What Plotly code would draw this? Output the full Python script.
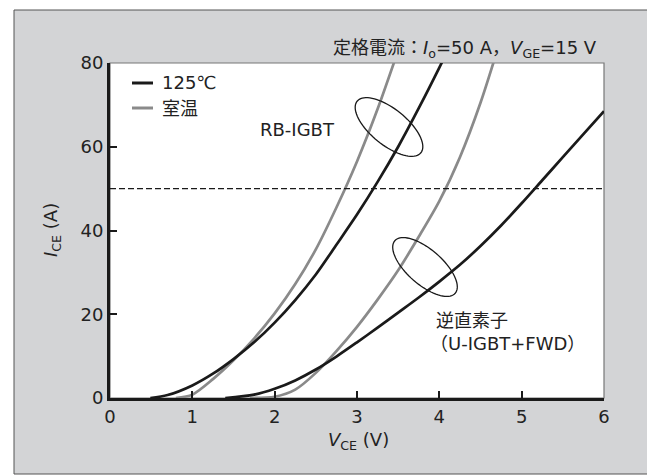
import math
import plotly.graph_objects as go

# ---- data ----
rb_hot_v = [0.49, 0.7, 1.0, 1.25, 1.5, 1.75, 2.0, 2.25, 2.5, 2.75, 3.0, 3.25, 3.5, 3.75, 4.0, 4.2]
rb_hot_i = [0.0, 0.7, 3.0, 5.8, 9.3, 13.3, 18.0, 23.4, 29.5, 36.6, 43.8, 51.6, 60.0, 69.2, 78.9, 87.0]

rb_rt_v = [0.8, 1.0, 1.25, 1.5, 1.75, 2.0, 2.25, 2.5, 2.75, 3.0, 3.25, 3.5]
rb_rt_i = [0.0, 0.8, 4.5, 9.0, 14.2, 20.2, 27.2, 35.5, 45.5, 56.5, 69.0, 83.0]

u_hot_v = [1.4, 1.75, 2.0, 2.25, 2.5, 2.75, 3.0, 3.25, 3.5, 3.75, 4.0, 4.25, 4.5, 4.75, 5.0, 5.25, 5.5, 5.75, 6.0]
u_hot_i = [0.0, 0.8, 2.2, 4.2, 6.8, 9.9, 13.3, 16.8, 20.4, 24.0, 27.8, 31.8, 36.3, 41.2, 46.5, 52.0, 57.5, 63.0, 68.5]

u_rt_v = [1.7, 2.0, 2.25, 2.5, 2.75, 3.0, 3.25, 3.5, 3.75, 4.0, 4.25, 4.5, 4.75]
u_rt_i = [0.0, 0.3, 2.0, 6.0, 11.2, 17.0, 23.5, 30.5, 38.5, 47.0, 57.5, 70.5, 86.0]

rated_current = 50
x_ticks = [0, 1, 2, 3, 4, 5, 6]
y_ticks = [0, 20, 40, 60, 80]

BLACK = "#1a1a1a"
GRAY = "#8a8a8a"
BG = "#d3d4d6"
FONT = "DejaVu Sans, Noto Sans CJK JP, sans-serif"
TXT = "#222222"

# page offset (body margin) and figure geometry, in screenshot pixels
OX, OY = 8, 8
W, H = 655, 475
PL, PR, PT, PB = 110, 604, 63, 398          # plot area edges on screen
L, T = PL - OX, PT - OY
R, B = W - (PR - OX), H - (PB - OY)
pw, ph = PR - PL, PB - PT
XR, YR = (0, 6), (0, 80)


def to_data(px, py):
    return (XR[0] + (px - PL) / pw * (XR[1] - XR[0]),
            YR[0] + (PB - py) / ph * (YR[1] - YR[0]))


def to_paper(px, py):
    return (px - PL) / pw, (PB - py) / ph


def ellipse_path(cx, cy, a, b, ang_deg, n=80):
    th = math.radians(ang_deg)
    pts = []
    for k in range(n + 1):
        t = 2 * math.pi * k / n
        px = cx + a * math.cos(t) * math.cos(th) - b * math.sin(t) * math.sin(th)
        py = cy + a * math.cos(t) * math.sin(th) + b * math.sin(t) * math.cos(th)
        pts.append(to_data(px, py))
    return "M" + " L".join(f"{x:.4f},{y:.4f}" for x, y in pts) + " Z"


fig = go.Figure()
for v, i, c in [(rb_rt_v, rb_rt_i, GRAY), (u_rt_v, u_rt_i, GRAY),
                (rb_hot_v, rb_hot_i, BLACK), (u_hot_v, u_hot_i, BLACK)]:
    fig.add_trace(go.Scatter(x=v, y=i, mode="lines",
                             line=dict(color=c, width=2.7, shape="spline", smoothing=0.8),
                             showlegend=False, hoverinfo="skip"))

fig.add_trace(go.Scatter(x=[XR[0], XR[1]], y=[rated_current, rated_current], mode="lines",
                         line=dict(color=BLACK, width=1.2, dash="6px,3px"),
                         showlegend=False, hoverinfo="skip"))

shapes = []
# gray frame
x0, y0 = to_paper(14, 474)
x1, y1 = to_paper(648, 10)
shapes.append(dict(type="rect", xref="paper", yref="paper", x0=x0, y0=y0, x1=x1, y1=y1,
                   fillcolor=BG, line=dict(color="#555555", width=1), layer="below"))
# white plot area with thin gray outline (top/right)
shapes.append(dict(type="rect", xref="paper", yref="paper", x0=0, y0=0, x1=1, y1=1,
                   fillcolor="white", line=dict(color="#777777", width=1.2), layer="below"))
# ellipses
shapes.append(dict(type="path", xref="x", yref="y", path=ellipse_path(389, 127, 41, 18, 39),
                   line=dict(color=BLACK, width=1.3)))
shapes.append(dict(type="path", xref="x", yref="y", path=ellipse_path(425, 267, 40, 17.5, 41),
                   line=dict(color=BLACK, width=1.3)))
# legend samples
for py, c in [(83, BLACK), (108, GRAY)]:
    ax0, ay = to_paper(132, py)
    ax1, _ = to_paper(153, py)
    shapes.append(dict(type="line", xref="paper", yref="paper", x0=ax0, x1=ax1, y0=ay, y1=ay,
                       line=dict(color=c, width=3)))

annotations = []


def ann(text, px, py, size, xanchor="center", angle=0, color=TXT):
    x, y = to_paper(px, py)
    annotations.append(dict(text=text, xref="paper", yref="paper", x=x, y=y, showarrow=False,
                            xanchor=xanchor, yanchor="middle", textangle=angle,
                            font=dict(family=FONT, size=size, color=color)))


ann("125℃", 160, 82, 18, "left")
ann("室温", 160, 108, 18, "left")
ann("定格電流：<i>I</i><sub>o</sub>=50 A，<i>V</i><sub>GE</sub>=15 V", 599, 49, 18, "right")
ann("RB-IGBT", 297, 130, 18)
ann("逆直素子", 434, 320, 18, "left")
ann("（U-IGBT+FWD）", 428, 343, 18, "left")
ann("<i>V</i><sub>CE</sub> (V)", 358, 441, 18)
ann("<i>I</i><sub>CE</sub> (A)", 52, 230, 18, angle=-90)

fig.update_layout(
    width=W, height=H, margin=dict(l=L, r=R, t=T, b=B),
    paper_bgcolor="white", plot_bgcolor="white",
    shapes=shapes, annotations=annotations, showlegend=False,
    xaxis=dict(range=list(XR), tickvals=x_ticks, ticks="inside", ticklen=7, tickwidth=1.5,
               tickcolor=BLACK, showline=True, linecolor=BLACK, linewidth=3, showgrid=False,
               zeroline=False, tickfont=dict(family=FONT, size=18, color=TXT),
               fixedrange=True),
    yaxis=dict(range=list(YR), tickvals=y_ticks, ticks="inside", ticklen=7, tickwidth=1.5,
               tickcolor=BLACK, showline=True, linecolor=BLACK, linewidth=3, showgrid=False,
               zeroline=False, tickfont=dict(family=FONT, size=18, color=TXT),
               fixedrange=True),
)

fig.write_html("out.html")
